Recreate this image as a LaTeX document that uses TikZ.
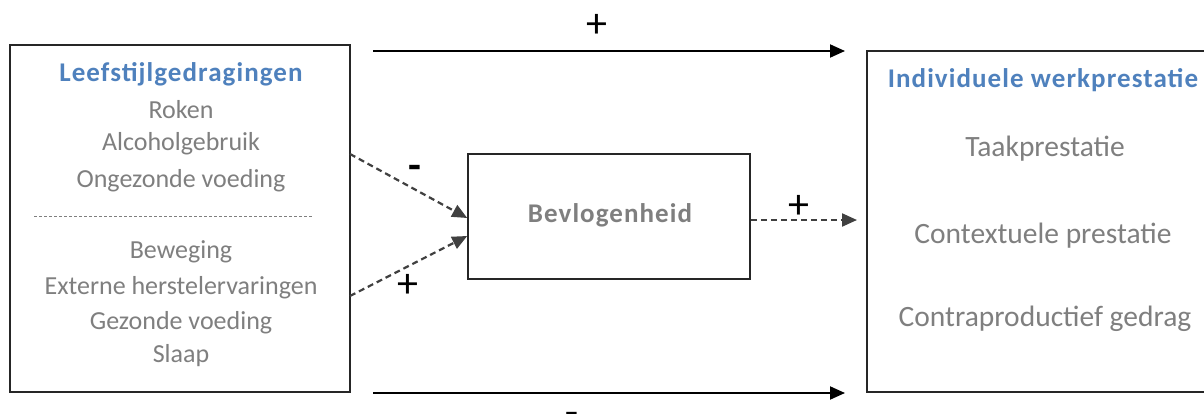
\documentclass[tikz,border=0pt]{standalone}
\usepackage{fontspec}
\setmainfont{Carlito}
\newfontfamily\headfont[LetterSpace=4]{Carlito}
\usetikzlibrary{arrows.meta}
\definecolor{txtgray}{HTML}{7F7F7F}
\definecolor{headblue}{HTML}{4F81BD}
\tikzset{
  box/.style={draw=black!85, line width=1.6pt, fill=white},
  item/.style={text=txtgray, font=\fontsize{26}{30}\selectfont, inner sep=0pt, anchor=center},
  ritem/.style={text=txtgray, font=\fontsize{29.5}{33}\selectfont, inner sep=0pt, anchor=center},
  head/.style={text=headblue, font=\headfont\fontsize{27}{31}\selectfont\bfseries, inner sep=0pt},
  sign/.style={text=black, font=\fontsize{42}{46}\selectfont, inner sep=0pt},
  minussign/.style={text=black, font=\fontsize{42}{46}\selectfont\bfseries, inner sep=0pt},
  solidarrow/.style={draw=black, line width=2pt, -{Triangle[length=15pt,width=13pt]}},
  dasharrow/.style={draw=black!75, line width=2.2pt, dash pattern=on 6pt off 4pt, -{Triangle[length=15pt,width=13pt]}},
}
\begin{document}
\begin{tikzpicture}[x=1pt,y=-1pt]
\useasboundingbox (0,0) rectangle (1204,414);
\fill[white] (0,0) rectangle (1204,414);
\clip (0,0) rectangle (1204,414);
% boxes
\draw[box] (10,45) rectangle (350,392);
\coordinate (L1) at (350,154);
\coordinate (L2) at (350,296);
\coordinate (LT) at (373,51);
\coordinate (LB) at (373,393);
\node[box, minimum width=282pt, minimum height=125pt, inner sep=0pt] (bev) at (609,216.5) {};
\node[text=txtgray, font=\headfont\fontsize{27}{31}\selectfont\bfseries, inner sep=0pt] (bevt) at (610,215) {Bevlogenheid};
\draw[box] (867,51) rectangle (1215,392);
\coordinate (RT) at (845,51);
\coordinate (RB) at (845,393);
\coordinate (RM) at (857,220);
% left box texts
\node[head] (lh) at (181,74) {Leefstijlgedragingen};
\node[item] (l1) at (181,110) {Roken};
\node[item] (l2) at (181,144) {Alcoholgebruik};
\node[item] (l3) at (181,181) {Ongezonde voeding};
\coordinate (s1) at (34,216);
\coordinate (s2) at (313,216);
\draw[txtgray, line width=0.8pt, dash pattern=on 3pt off 2pt] (s1) -- (s2);
\node[item] (l4) at (181,252) {Beweging};
\node[item] (l5) at (181,288) {Externe herstelervaringen};
\node[item] (l6) at (181,323) {Gezonde voeding};
\node[item] (l7) at (181,356) {Slaap};
% right box texts
\node[head] (rh) at (1043,80) {Individuele werkprestatie};
\node[ritem] (r1) at (1045,149) {Taakprestatie};
\node[ritem] (r2) at (1043,236) {Contextuele prestatie};
\node[ritem] (r3) at (1045,319) {Contraproductief gedrag};
% arrows
\draw[solidarrow] (LT) -- (RT);
\draw[solidarrow] (LB) -- (RB);
\draw[dasharrow] (L1) -- (bev.west |- 0,218);
\draw[dasharrow] (L2) -- (bev.west |- 0,236);
\draw[dasharrow] (bev.east |- 0,220) -- (RM);
% signs
\node[sign] (p1) at (597,26) {+};
\node[minussign] (m1) at (415,172) {-};
\node[sign] (p2) at (408,286) {+};
\node[sign] (p3) at (799,207) {+};
\node[minussign] (m2) at (572,419) {-};
\end{tikzpicture}
\end{document}
